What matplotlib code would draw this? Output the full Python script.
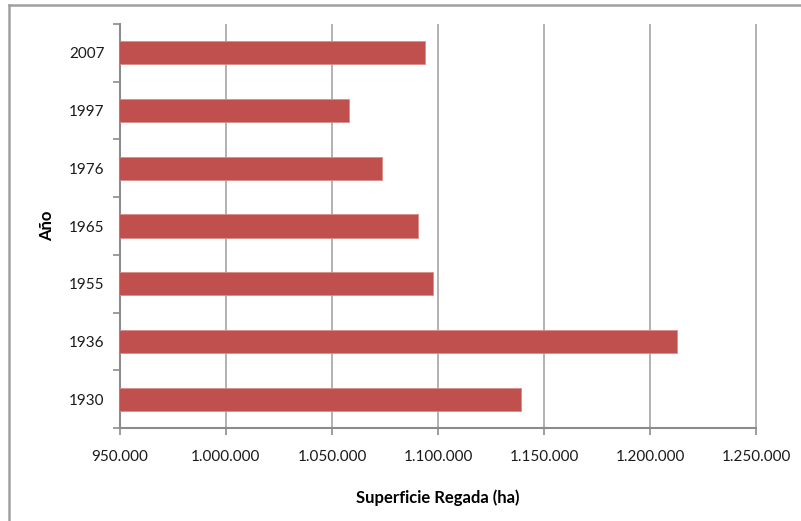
import numpy as np
import matplotlib.pyplot as plt
from matplotlib.lines import Line2D
from matplotlib.ticker import FuncFormatter, MultipleLocator

# irrigated area by year
years = ['1930', '1936', '1955', '1965', '1976', '1997', '2007']
area_ha = [1139200, 1212600, 1097800, 1090600, 1073700, 1058100, 1093700]

plt.rcParams['font.family'] = ['Lato', 'DejaVu Sans']

W, H = 801, 521
fig = plt.figure(figsize=(W / 100, H / 100), dpi=100)
ax = fig.add_axes([119.8 / W, 1 - 428 / H, (756.5 - 119.8) / W, (428 - 24) / H])

pos = np.arange(len(years))
ax.barh(pos, area_ha, height=0.4, left=0, color='#c0504d',
        edgecolor='#d98c8a', linewidth=0.6, zorder=3)

ax.set_xlim(950000, 1250000)
ax.set_ylim(-0.5, len(years) - 0.5)
ax.xaxis.set_major_locator(MultipleLocator(50000))
ax.xaxis.set_major_formatter(FuncFormatter(lambda v, p: f'{int(v):,}'.replace(',', '.')))
ax.set_yticks(pos)
ax.set_yticklabels(years)
ax.set_yticks(np.arange(-0.5, len(years)), minor=True)

ax.grid(axis='x', color='#a6a6a6', linewidth=1.2, zorder=0)
for s in ['top', 'right']:
    ax.spines[s].set_visible(False)
for s in ['left', 'bottom']:
    ax.spines[s].set_color('#8c8c8c')
    ax.spines[s].set_linewidth(1.5)

ax.tick_params(axis='x', direction='out', length=5, width=1.2, color='#8c8c8c',
               labelsize=11, pad=11, labelcolor='#1a1a1a')
ax.tick_params(axis='y', which='major', length=0, labelsize=11, pad=11,
               labelcolor='#1a1a1a')
ax.tick_params(axis='y', which='minor', direction='out', length=5, width=1.2,
               color='#8c8c8c')

ax.set_xlabel('Superficie Regada (ha)', fontsize=12, fontweight='bold', labelpad=18)
ax.set_ylabel('Año', fontsize=12, fontweight='bold', labelpad=10)

# chart frame
fig.add_artist(Line2D([9 / W, 9 / W], [0, 1 - 5 / H], color='#a0a0a0', lw=1.8))
fig.add_artist(Line2D([9 / W, 1], [1 - 5 / H, 1 - 5 / H], color='#a0a0a0', lw=1.8))

fig.savefig('out.png', dpi=100)
